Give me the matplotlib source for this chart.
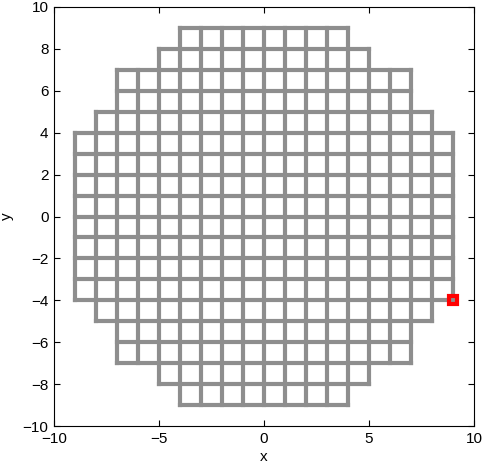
import numpy as np
import matplotlib
matplotlib.use('Agg')
import matplotlib.pyplot as plt

plt.rcParams['font.family'] = ['Liberation Sans', 'DejaVu Sans']

# half-extent of the grid for each row/column, from -9 to 9
coords = list(range(-9, 10))
half_extent = [4, 5, 7, 7, 8, 9, 9, 9, 9, 9, 9, 9, 9, 9, 8, 7, 7, 5, 4]

# highlighted node
node_x = [9]
node_y = [-4]

x_ticks = [-10, -5, 0, 5, 10]
y_ticks = [-10, -8, -6, -4, -2, 0, 2, 4, 6, 8, 10]

fig = plt.figure(figsize=(4.82, 4.66), dpi=100)
ax = fig.add_axes([54/482, 40/466, 420/482, 419/466])

gray = '#8e8e8e'
for c, h in zip(coords, half_extent):
    ax.plot([-h, h], [c, c], color=gray, lw=3, solid_capstyle='projecting')
    ax.plot([c, c], [-h, h], color=gray, lw=3, solid_capstyle='projecting')

ax.plot(node_x, node_y, 's', ms=6, mfc='none', mec='red', mew=3)

ax.set_xlim(-10, 10)
ax.set_ylim(-10, 10)
ax.set_xticks(x_ticks)
ax.set_yticks(y_ticks)
ax.tick_params(direction='in', top=True, right=True, length=4, labelsize=11, pad=4)
ax.set_xlabel('x', fontsize=11, labelpad=3)
ax.set_ylabel('y', fontsize=11, labelpad=6)

fig.savefig('out.png', dpi=100)
